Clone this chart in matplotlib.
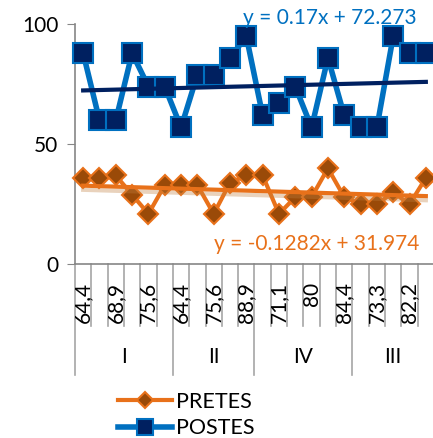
#!/usr/bin/env python3
import numpy as np
import matplotlib
matplotlib.use("Agg")
import matplotlib.pyplot as plt
import matplotlib.patheffects as pe
import matplotlib.transforms as mtransforms

plt.rcParams['font.family'] = ['Lato', 'DejaVu Sans']

# category labels (Excel only shows every other one)
tick_labels = ["64,4", "", "68,9", "", "75,6", "",
               "64,4", "", "75,6", "", "88,9",
               "", "71,1", "", "80", "", "84,4", "",
               "73,3", "", "82,2", ""]
groups = ["I", "II", "IV", "III"]
group_sizes = [6, 5, 6, 5]

pretes = [36, 36, 37, 29, 21, 33, 33, 33, 21, 34, 37,
          37, 21, 28, 28, 40, 28, 25, 25, 30, 25, 36]
postes = [88, 60, 60, 88, 74, 74, 57, 79, 79, 86, 95,
          62, 67, 74, 57, 86, 62, 57, 57, 95, 88, 88]

eq_postes = "y = 0.17x + 72.273"
eq_pretes = "y = -0.1282x + 31.974"

W, H = 433, 438
fig = plt.figure(figsize=(W / 100, H / 100), dpi=100)
ax = fig.add_axes([75 / W, 1 - 264.3 / H, 359 / W, 240 / H])

x = np.arange(1, len(postes) + 1)
orange = "#E8711A"
blue = "#0070C0"
navy = "#002060"

# series
ax.plot(x, pretes, color=orange, lw=3, marker="D", ms=10,
        mfc="#9A4A08", mec=orange, mew=1.5, zorder=3, clip_on=False, label="PRETES")
ax.plot(x, postes, color=blue, lw=4, marker="s", ms=14,
        mfc=navy, mec=blue, mew=1.5, zorder=3, clip_on=False, label="POSTES")

# linear trendlines
p1 = np.polyfit(x, pretes, 1)
p2 = np.polyfit(x, postes, 1)
ax.plot(x, np.polyval(p1, x), color=orange, lw=3, zorder=4,
        path_effects=[pe.SimpleLineShadow(offset=(0, -3), shadow_color="#C08040", alpha=0.35),
                      pe.Normal()])
ax.plot(x, np.polyval(p2, x), color=navy, lw=3, zorder=4)

ax.text(417 / W, 1 - 17.5 / H, eq_postes, transform=fig.transFigure,
        ha="right", va="center", color=blue, fontsize=15)
ax.text(419 / W, 1 - 244 / H, eq_pretes, transform=fig.transFigure,
        ha="right", va="center", color=orange, fontsize=15)

ax.set_xlim(0.5, len(x) + 0.5)
ax.set_ylim(0, 100)
ax.set_yticks([0, 50, 100])
ax.tick_params(axis="y", length=6, color="#868686", labelsize=15, pad=6)
ax.set_xticks([])
for s in ["top", "right"]:
    ax.spines[s].set_visible(False)
ax.spines["left"].set_color("#868686")
ax.spines["bottom"].set_color("#868686")
ax.spines["left"].set_linewidth(1.2)
ax.spines["bottom"].set_linewidth(1.2)

# multi-level category axis
trans = mtransforms.blended_transform_factory(ax.transData, ax.transAxes)
bounds = np.cumsum([0] + group_sizes) + 0.5
for b in np.arange(0.5, len(x) + 1):
    low = -0.46 if b in bounds else -0.257
    ax.plot([b, b], [0, low], transform=trans, color="#A6A6A6", lw=1.2, clip_on=False)
for xi, lab in zip(x, tick_labels):
    if lab:
        ax.text(xi, -0.074, lab, transform=trans, rotation=90,
                ha="center", va="top", fontsize=15)
for g, a, b in zip(groups, bounds[:-1], bounds[1:]):
    ax.text((a + b) / 2, -0.386, g, transform=trans, ha="center",
            va="center", fontsize=15)

fig.legend(loc="center left", bbox_to_anchor=(118 / W, 1 - 415 / H),
           frameon=False, fontsize=15.5, handlelength=2.5, handletextpad=0.2,
           labelspacing=0.3, borderpad=0, borderaxespad=0, markerscale=0.8)

fig.savefig("out.png", dpi=100)
